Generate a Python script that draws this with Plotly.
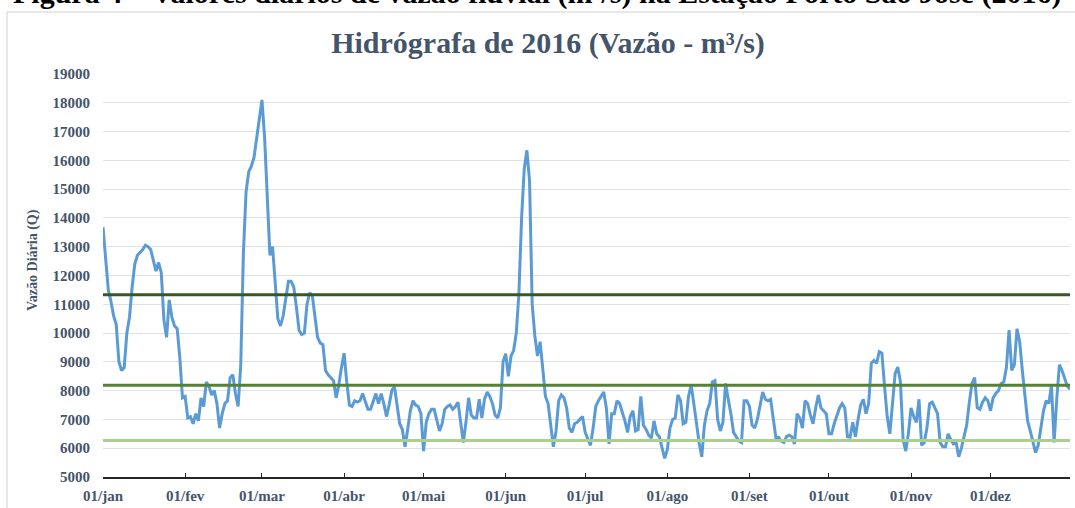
import pandas as pd
import plotly.graph_objects as go

# ---------------- data ----------------
start_date = "2016-01-01"
vazao = [
    13680, 12600, 11500, 11100, 10600, 10300, 9000, 8700, 8800, 10000,
    10550, 11600, 12400, 12700, 12800, 12900, 13050, 13000, 12900, 12500,
    12150, 12450, 12100, 10450, 9850, 11150, 10550, 10250, 10150, 9150,
    7750, 7800, 7050, 7100, 6850, 7200, 6950, 7750, 7450, 8300,
    8150, 7850, 8000, 7550, 6700, 7200, 7550, 7650, 8450, 8550,
    7900, 7450, 8900, 12800, 14900, 15600, 15800, 16100, 16800, 17400,
    18100, 16800, 14600, 12700, 13000, 11800, 10500, 10250, 10600, 11200,
    11800, 11800, 11600, 10900, 10100, 9950, 10000, 11000, 11400, 11300,
    10500, 9850, 9650, 9600, 8700, 8550, 8450, 8350, 7750, 8200,
    8800, 9300, 8300, 7500, 7450, 7650, 7600, 7650, 7900, 7600,
    7350, 7350, 7600, 7900, 7550, 7900, 7550, 7100, 7500, 8000,
    8150, 7550, 6850, 6650, 6050, 6650, 7300, 7650, 7500, 7450,
    7200, 5900, 6900, 7200, 7350, 7350, 6950, 6600, 6850, 7350,
    7450, 7500, 7350, 7450, 7600, 6800, 6200, 6900, 7750, 7150,
    7050, 7050, 7700, 7050, 7700, 7950, 7800, 7550, 7150, 7050,
    7400, 9000, 9280, 8500, 9200, 9400, 10000, 11400, 14000, 15700,
    16350, 15300, 11000, 9900, 9200, 9700, 8700, 7800, 7550, 6700,
    6050, 6600, 7650, 7850, 7750, 7400, 6700, 6550, 6850, 6900,
    7000, 7100, 6550, 6300, 6100, 6700, 7450, 7650, 7800, 7950,
    7400, 6150, 7200, 7200, 7650, 7550, 7250, 6950, 6550, 7100,
    7300, 6600, 6650, 7800, 6800, 6650, 6450, 6350, 6950, 6500,
    6400, 6050, 5650, 5950, 6700, 7000, 7050, 7850, 7650, 6850,
    6900, 7800, 8200, 7550, 6800, 6200, 5700, 6800, 7300, 7550,
    8300, 8350, 7000, 6600, 6900, 8250, 7700, 7200, 6550, 6400,
    6250, 6200, 7650, 7650, 7450, 6800, 6700, 7000, 7450, 7950,
    7700, 7650, 7700, 7050, 6350, 6380, 6250, 6200, 6400, 6450,
    6400, 6150, 7200, 7050, 6700, 7650, 7550, 7150, 6850, 7400,
    7850, 7400, 7300, 7200, 6500, 6500, 6850, 7100, 7400, 7550,
    7400, 6400, 6380, 6900, 6400, 7000, 7500, 7700, 7200, 7550,
    8950, 9050, 8950, 9350, 9300, 8150, 7100, 6500, 7550, 8600,
    8820, 8300, 6300, 5900, 6500, 7400, 7100, 6900, 7700, 6100,
    6200, 6700, 7550, 7600, 7400, 7200, 6200, 6050, 6050, 6500,
    6300, 6150, 6200, 5700, 6000, 6400, 6800, 7600, 8250, 8450,
    7400, 7350, 7600, 7750, 7650, 7300, 7750, 7900, 8000, 8250,
    8300, 8800, 10100, 8700, 8900, 10150, 9700, 8700, 7700, 6950,
    6600, 6250, 5850, 6100, 6650, 7300, 7650, 7550, 8200, 6200,
    7700, 8900, 8700, 8450, 8150, 8050,
]
ref_values = [11330, 8190, 6270]
ref_colors = ["#385723", "#548235", "#A9D08E"]
tick_dates = ["2016-01-01", "2016-02-01", "2016-03-01", "2016-04-01", "2016-05-01",
              "2016-06-01", "2016-07-01", "2016-08-01", "2016-09-01", "2016-10-01",
              "2016-11-01", "2016-12-01", "2016-12-31"]
tick_labels = ["01/jan", "01/fev", "01/mar", "01/abr", "01/mai", "01/jun",
               "01/jul", "01/ago", "01/set", "01/out", "01/nov", "01/dez", ""]
y_ticks = list(range(5000, 19001, 1000))

title_text = "Hidrógrafa de 2016 (Vazão - m³/s)"
y_title = "Vazão Diária (Q)"
caption = "Figura 4 – Valores diários de vazão fluvial (m³/s) na Estação Porto São José (2016)"

# ---------------- figure ----------------
dates = pd.date_range(start_date, periods=len(vazao), freq="D")

W, H = 1075, 508
ML, MR, MT, MB = 103, 5, 74, 31
PW, PH = W - ML - MR, H - MT - MB

def px_x(px):
    return (px - ML) / PW

def px_y(py):
    return (H - MB - py) / PH

fig = go.Figure()
fig.add_trace(go.Scatter(x=dates, y=vazao, mode="lines",
                         line=dict(color="#5B9BD5", width=3),
                         showlegend=False, hoverinfo="x+y"))
for v, c in zip(ref_values, ref_colors):
    fig.add_trace(go.Scatter(x=[dates[0], dates[-1]], y=[v, v], mode="lines",
                             line=dict(color=c, width=3), showlegend=False,
                             hoverinfo="y"))

text_color = "#44546A"
serif = "Liberation Serif, Times New Roman, serif"

fig.update_layout(
    width=W, height=H,
    margin=dict(l=ML, r=MR, t=MT, b=MB, pad=0),
    paper_bgcolor="white", plot_bgcolor="white",
    title=dict(text="<b>" + title_text + "</b>", x=px_x(548), xref="paper",
               xanchor="center", y=1 - 42 / H, yanchor="middle",
               font=dict(family=serif, size=30, color=text_color)),
    xaxis=dict(range=[dates[0], dates[-1]], tickmode="array",
               tickvals=tick_dates, ticktext=["<b>%s</b>" % t for t in tick_labels],
               showgrid=False, zeroline=False, showline=True, automargin=False,
               linecolor="#262626", linewidth=1.5,
               ticks="inside", ticklen=4, tickwidth=1.2, tickcolor="#262626",
               ticklabelstandoff=4,
               tickfont=dict(family=serif, size=15, color=text_color)),
    yaxis=dict(range=[5000, 19000], tickmode="array", tickvals=y_ticks,
               ticktext=["<b>%d</b>" % v for v in y_ticks],
               showgrid=True, gridcolor="#DDE1E8", gridwidth=1, automargin=False,
               zeroline=False, showline=False, ticks="",
               ticklabelstandoff=12,
               tickfont=dict(family=serif, size=15, color=text_color)),
    annotations=[
        dict(text="<b>" + y_title + "</b>", xref="paper", yref="paper",
             x=px_x(33), y=px_y(260), textangle=-90, showarrow=False,
             xanchor="center", yanchor="middle",
             font=dict(family=serif, size=14, color=text_color)),
        dict(text="<b>" + caption + "</b>", xref="paper", yref="paper",
             x=px_x(537), y=px_y(12), showarrow=False,
             xanchor="center", yanchor="bottom",
             font=dict(family=serif, size=30, color="black")),
    ],
    shapes=[
        dict(type="rect", xref="paper", yref="paper",
             x0=px_x(7), x1=px_x(1100), y0=px_y(530), y1=px_y(12),
             line=dict(color="#D0D0D0", width=1), fillcolor="rgba(0,0,0,0)",
             layer="below"),
    ],
)

fig.write_html("out.html", config={"displayModeBar": False},
               post_script="document.body.style.margin='0px';document.body.style.overflow='hidden';")
